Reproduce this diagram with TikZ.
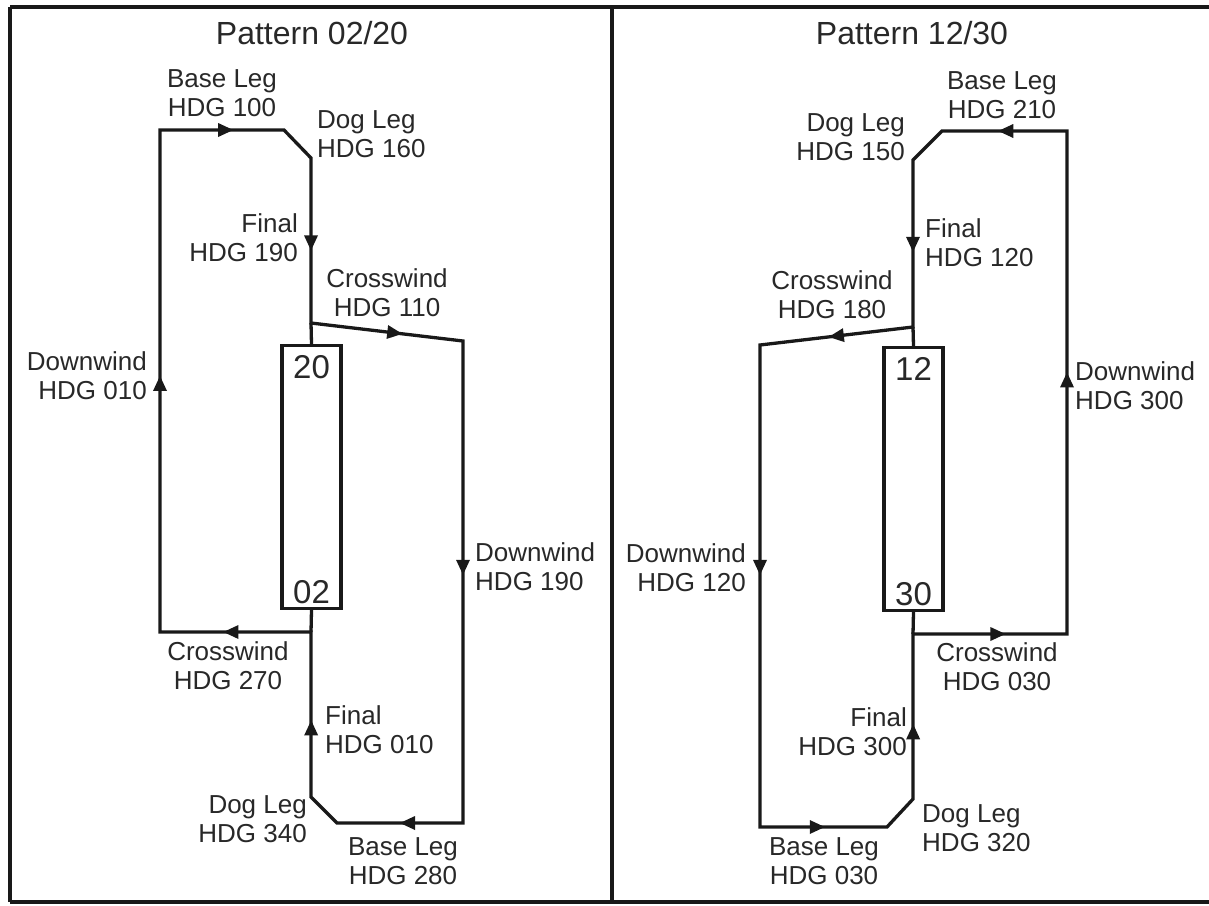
\documentclass[tikz,border=0pt]{standalone}
\usepackage{fontspec}
\setmainfont{Liberation Sans}
\usetikzlibrary{arrows.meta, positioning, decorations.markings}
\definecolor{tinta}{RGB}{25, 25, 25}
\definecolor{texto}{RGB}{40, 40, 40}
\tikzset{
  moldura/.style={draw=tinta, line width=3.5pt},
  trajeto/.style={draw=tinta, line width=3.3pt, line join=miter},
  seta/.style={
    postaction={decorate},
    decoration={markings, mark=at position #1 with {\fill[tinta] (0pt,0pt) -- (-15pt,7pt) -- (-15pt,-7pt) -- cycle;}}
  },
  rotulo/.style={font=\fontsize{26}{29}\selectfont, text=texto, inner sep=0pt, align=center},
  rotuloE/.style={rotulo, anchor=east, align=right},
  rotuloD/.style={rotulo, anchor=west, align=left},
  titulo/.style={font=\fontsize{32}{36}\selectfont, text=texto, inner sep=0pt},
  pista/.style={draw=tinta, line width=3.3pt, minimum width=59pt, minimum height=263pt, inner sep=0pt},
  numero/.style={font=\fontsize{33}{36}\selectfont, text=texto, inner sep=0pt},
}

\begin{document}
\begin{tikzpicture}[x=1pt, y=-1pt]
  \useasboundingbox (0,0) rectangle (1209,905);

  \draw[moldura] (10,7) -- (1209,7);
  \draw[moldura] (10,902) -- (1209,902);
  \draw[moldura] (10,7) -- (10,902);
  \draw[moldura] (612,7) -- (612,902);

  % padrao 02/20
  \node[titulo] (tit0220) at (312,33) {Pattern 02/20};
  \node[pista] (pista20) at (311.5,477) {};
  \node[numero, anchor=north] (num20) at ([yshift=-11pt]pista20.north) {20};
  \node[numero, anchor=south] (num02) at ([yshift=6pt]pista20.south) {02};

  \coordinate (e_dwb)  at (160,632);
  \coordinate (e_dwt)  at (160,130);
  \coordinate (e_bt)   at (284,130);
  \coordinate (e_dogt) at (311,158);
  \coordinate (e_cw)   at (311,323);
  \coordinate (e_cwr)  at (463,341);
  \coordinate (e_br)   at (463,823);
  \coordinate (e_bb)   at (337,823);
  \coordinate (e_dogb) at (311,797);
  \coordinate (e_cwb)  at (311,632);

  \draw[trajeto] (e_dwb) -- (e_dwt) -- (e_bt) -- (e_dogt) -- (e_cw) -- (e_cwr)
    -- (e_br) -- (e_bb) -- (e_dogb) -- (e_cwb) -- cycle;
  \draw[trajeto] (e_cw) -- (pista20.north);
  \draw[trajeto] (e_cwb) -- (pista20.south);

  \path[seta=0.51]  (e_dwb) -- (e_dwt);
  \path[seta=0.59]  (e_dwt) -- (e_bt);
  \path[seta=0.56]  (e_dogt) -- (e_cw);
  \path[seta=0.6]   (e_cw) -- (e_cwr);
  \path[seta=0.485] (e_cwr) -- (e_br);
  \path[seta=0.5]   (e_br) -- (e_bb);
  \path[seta=0.41]  (e_dogb) -- (pista20.south);
  \path[seta=0.58]  (e_cwb) -- (e_dwb);

  \node[rotulo]  (e_base1) at (222,93)  {Base Leg\\HDG 100};
  \node[rotuloD] (e_dog1)  at (317,134) {Dog Leg\\HDG 160};
  \node[rotuloE] (e_fin1)  at (298,238) {Final\\HDG 190};
  \node[rotulo]  (e_cw1)   at (387,293) {Crosswind\\HDG 110};
  \node[rotuloE] (e_dw1)   at (147,376) {Downwind\\HDG 010};
  \node[rotuloD] (e_dw2)   at (475,567) {Downwind\\HDG 190};
  \node[rotulo]  (e_cw2)   at (228,666) {Crosswind\\HDG 270};
  \node[rotuloD] (e_fin2)  at (325,730) {Final\\HDG 010};
  \node[rotuloE] (e_dog2)  at (307,819) {Dog Leg\\HDG 340};
  \node[rotulo]  (e_base2) at (403,861) {Base Leg\\HDG 280};

  % padrao 12/30
  \node[titulo] (tit1230) at (912,33) {Pattern 12/30};
  \node[pista] (pista12) at (913.5,479) {};
  \node[numero, anchor=north] (num12) at ([yshift=-11pt]pista12.north) {12};
  \node[numero, anchor=south] (num30) at ([yshift=6pt]pista12.south) {30};

  \coordinate (d_dwb)  at (1067,634);
  \coordinate (d_dwt)  at (1067,131);
  \coordinate (d_bt)   at (942,131);
  \coordinate (d_dogt) at (913,160);
  \coordinate (d_cw)   at (913,327);
  \coordinate (d_cwl)  at (760,345);
  \coordinate (d_bl)   at (760,827);
  \coordinate (d_bb)   at (887,827);
  \coordinate (d_dogb) at (913,799);
  \coordinate (d_cwb)  at (913,634);

  \draw[trajeto] (d_dwb) -- (d_dwt) -- (d_bt) -- (d_dogt) -- (d_cw) -- (d_cwl)
    -- (d_bl) -- (d_bb) -- (d_dogb) -- (d_cwb) -- cycle;
  \draw[trajeto] (d_cw) -- (pista12.north);
  \draw[trajeto] (d_cwb) -- (pista12.south);

  \path[seta=0.52]  (d_dwb) -- (d_dwt);
  \path[seta=0.55]  (d_dwt) -- (d_bt);
  \path[seta=0.55]  (d_dogt) -- (d_cw);
  \path[seta=0.55]  (d_cw) -- (d_cwl);
  \path[seta=0.477] (d_cwl) -- (d_bl);
  \path[seta=0.51]  (d_bl) -- (d_bb);
  \path[seta=0.40]  (d_dogb) -- (pista12.south);
  \path[seta=0.6]   (d_cwb) -- (d_dwb);

  \node[rotulo]  (d_base1) at (1002,95) {Base Leg\\HDG 210};
  \node[rotuloE] (d_dog1)  at (905,137) {Dog Leg\\HDG 150};
  \node[rotuloD] (d_fin1)  at (925,243) {Final\\HDG 120};
  \node[rotulo]  (d_cw1)   at (832,295) {Crosswind\\HDG 180};
  \node[rotuloD] (d_dw1)   at (1075,386) {Downwind\\HDG 300};
  \node[rotuloE] (d_dw2)   at (746,568) {Downwind\\HDG 120};
  \node[rotulo]  (d_cw2)   at (997,667) {Crosswind\\HDG 030};
  \node[rotuloE] (d_fin2)  at (907,732) {Final\\HDG 300};
  \node[rotuloD] (d_dog2)  at (922,828) {Dog Leg\\HDG 320};
  \node[rotulo]  (d_base2) at (824,861) {Base Leg\\HDG 030};
\end{tikzpicture}
\end{document}
